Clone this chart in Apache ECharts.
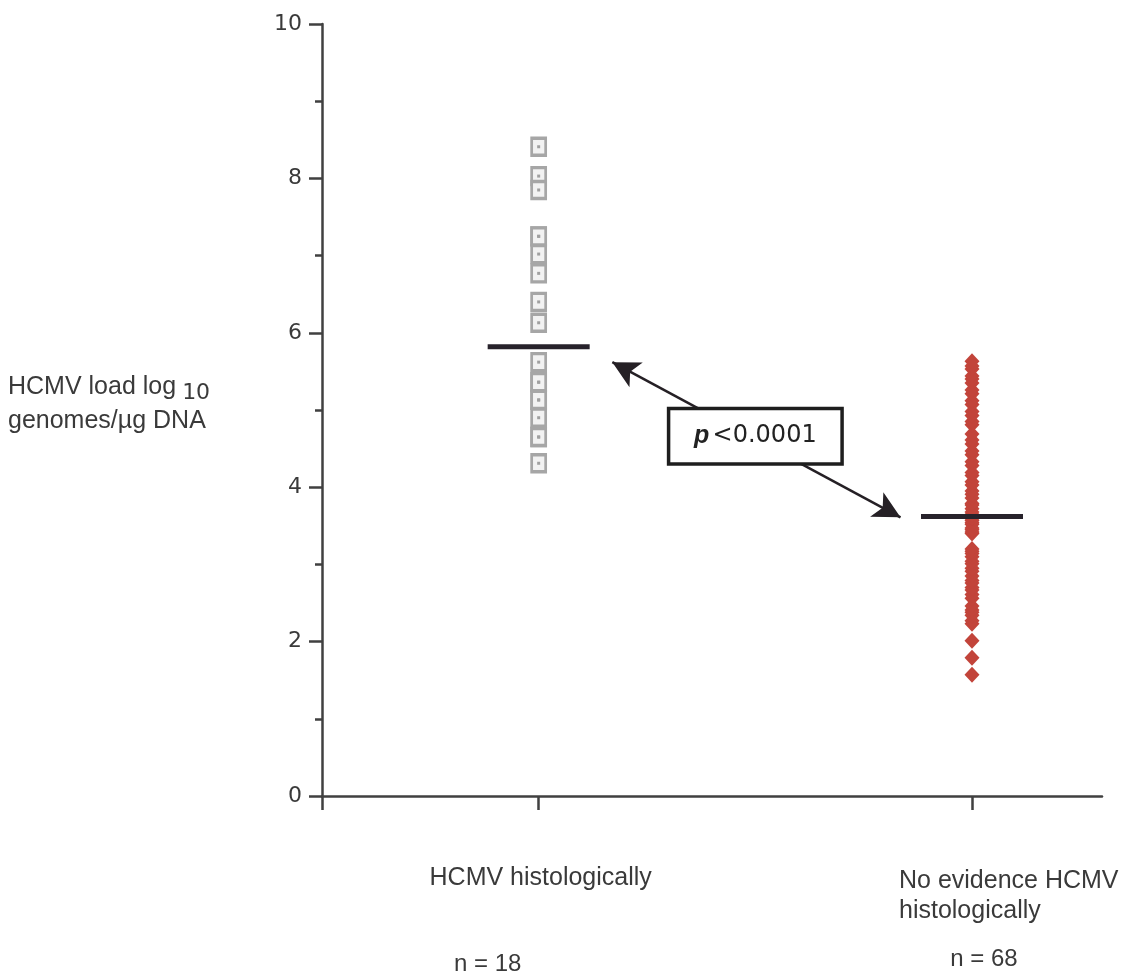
<!DOCTYPE html>
<html>
<head>
<meta charset="utf-8">
<script src="https://cdn.jsdelivr.net/npm/echarts@6/dist/echarts.min.js"></script>
<style>
  html, body { margin: 0; padding: 0; background: #fff; }
  #chart { width: 1129px; height: 980px; }
</style>
</head>
<body>
<div id="chart"></div>
<script>
// Group labels and sample sizes
const groupNames = ['HCMV histologically', 'No evidence HCMV\nhistologically'];
const groupCounts = ['n = 18', 'n = 68'];
const groupX = [1, 3];

// HCMV load (log10 genomes/µg DNA), one value per patient
const histoPositive = [8.41, 8.03, 7.85, 7.25, 7.25, 7.02, 6.77, 6.40, 6.13,
  5.62, 5.36, 5.36, 5.13, 5.13, 4.90, 4.65, 4.65, 4.31];
const histoNegative = [1.57, 1.79, 2.01, 2.23, 2.27, 2.34, 2.38, 2.41, 2.46,
  2.56, 2.61, 2.67, 2.70, 2.76, 2.79, 2.85, 2.91, 2.95, 3.01, 3.04, 3.10,
  3.14, 3.17, 3.20, 3.40, 3.42, 3.45, 3.47, 3.52, 3.54, 3.57, 3.59, 3.61, 3.61,
  3.63, 3.65, 3.68, 3.72, 3.77, 3.79, 3.86, 3.91, 3.95, 4.03, 4.07, 4.15,
  4.19, 4.28, 4.33, 4.42, 4.47, 4.56, 4.61, 4.69, 4.81, 4.85, 4.93, 4.98,
  5.07, 5.12, 5.21, 5.26, 5.35, 5.40, 5.44, 5.53, 5.57, 5.63];

// Group medians
const medians = [5.82, 3.62];

// Y axis ticks
const yMin = 0, yMax = 10, yStep = 2;

// Significance annotation: arrow ends and label anchor (data coordinates)
const pText = '<0.0001';
const arrowEnds = [[1.34, 5.62], [2.67, 3.61]];
const pLabelAt = [2.0, 4.66];

const FONT = '"Liberation Sans", Arial, sans-serif';
const NUMFONT = '"DejaVu Sans", sans-serif';
const INK = '#3a3a3a';
const AXIS = '#404040';

const chart = echarts.init(document.getElementById('chart'), null, { renderer: 'canvas' });

const option = {
  animation: false,
  backgroundColor: '#ffffff',
  grid: { left: 322, right: 27, top: 24, bottom: 184, containLabel: false },
  xAxis: {
    type: 'value', min: 0, max: 3.6,
    splitLine: { show: false },
    axisLine: { show: true, onZero: false, lineStyle: { color: AXIS, width: 2.5 } },
    axisTick: { show: true, customValues: [0, 1, 3], length: 14,
      lineStyle: { color: AXIS, width: 2.5 } },
    axisLabel: { show: false }
  },
  yAxis: {
    type: 'value', min: yMin, max: yMax, interval: yStep,
    splitLine: { show: false },
    axisLine: { show: true, lineStyle: { color: AXIS, width: 2.5 } },
    axisTick: { show: true, length: 13, lineStyle: { color: AXIS, width: 2.5 } },
    minorTick: { show: true, splitNumber: 2, length: 7, lineStyle: { color: AXIS, width: 2.5 } },
    axisLabel: { fontFamily: NUMFONT, fontSize: 22, color: INK, margin: 20 }
  },
  series: [
    {
      name: 'HCMV histologically',
      type: 'scatter',
      symbol: 'rect',
      symbolSize: [14, 17],
      itemStyle: { color: '#f2f2f2', borderColor: '#a6a6a6', borderWidth: 3, opacity: 1 },
      data: histoPositive.map(v => [groupX[0], v]),
      z: 3
    },
    {
      name: 'HCMV histologically centre',
      type: 'scatter',
      symbol: 'rect',
      symbolSize: 3,
      itemStyle: { color: '#a0a0a0', opacity: 1 },
      data: histoPositive.map(v => [groupX[0], v]),
      z: 4,
      silent: true
    },
    {
      name: 'No evidence HCMV histologically',
      type: 'scatter',
      symbol: 'diamond',
      symbolSize: [15, 16],
      itemStyle: { color: '#c2443a', opacity: 1 },
      data: histoNegative.map(v => [groupX[1], v]),
      z: 3
    },
    {
      name: 'Median',
      type: 'scatter',
      symbol: 'rect',
      symbolSize: [102, 5],
      itemStyle: { color: '#27222b', opacity: 1 },
      data: medians.map((m, i) => [groupX[i], m]),
      z: 5,
      markLine: {
        silent: true,
        symbol: ['arrow', 'arrow'],
        symbolSize: [21, 27],
        lineStyle: { color: '#252025', width: 2.5, type: 'solid', opacity: 1 },
        itemStyle: { color: '#252025' },
        label: { show: false },
        data: [[{ coord: arrowEnds[0] }, { coord: arrowEnds[1] }]]
      }
    },
    {
      name: 'p value',
      type: 'scatter',
      symbolSize: 0,
      z: 10,
      zlevel: 1,
      itemStyle: { opacity: 1 },
      data: [pLabelAt],
      label: {
        show: true,
        position: 'inside',
        formatter: '{i|p} {t|' + pText + '}',
        backgroundColor: '#ffffff',
        borderColor: '#1e1e1e',
        borderWidth: 3.5,
        width: 170,
        height: 52,
        lineHeight: 52,
        align: 'center',
        verticalAlign: 'middle',
        rich: {
          i: { fontFamily: FONT, fontStyle: 'italic', fontWeight: 'bold', fontSize: 25, color: '#222', lineHeight: 52 },
          t: { fontFamily: NUMFONT, fontSize: 24, color: '#222', lineHeight: 52 }
        }
      }
    }
  ]
};

chart.setOption(option);

// Text blocks beneath the x axis and the y-axis title
const px = x => chart.convertToPixel({ xAxisIndex: 0, yAxisIndex: 0 }, [x, 0]);
const p0 = px(groupX[0]);
const p1 = px(groupX[1]);
const g = [
  {
    type: 'text', left: 8, top: 370,
    style: {
      text: '{a|HCMV load log}{s|10}\n{a|genomes/µg DNA}',
      fill: INK,
      rich: {
        a: { fontFamily: FONT, fontSize: 25, lineHeight: 34, fill: INK },
        s: { fontFamily: NUMFONT, fontSize: 22, lineHeight: 34, padding: [12, 0, 0, 6], fill: INK }
      }
    }
  },
  {
    type: 'text', x: p0[0] + 2, y: 866,
    style: { text: groupNames[0], font: '25px ' + FONT, fill: INK, align: 'center' }
  },
  {
    type: 'text', x: p1[0] - 73, y: 866,
    style: { text: groupNames[1], font: '25px ' + FONT, fill: INK, align: 'left', lineHeight: 30 }
  },
  {
    type: 'text', x: p0[0] - 51, y: 952,
    style: { text: groupCounts[0], font: '24px ' + FONT, fill: INK, align: 'center' }
  },
  {
    type: 'text', x: p1[0] + 12, y: 947,
    style: { text: groupCounts[1], font: '24px ' + FONT, fill: INK, align: 'center' }
  }
];
chart.setOption({ graphic: g });
</script>
</body>
</html>
